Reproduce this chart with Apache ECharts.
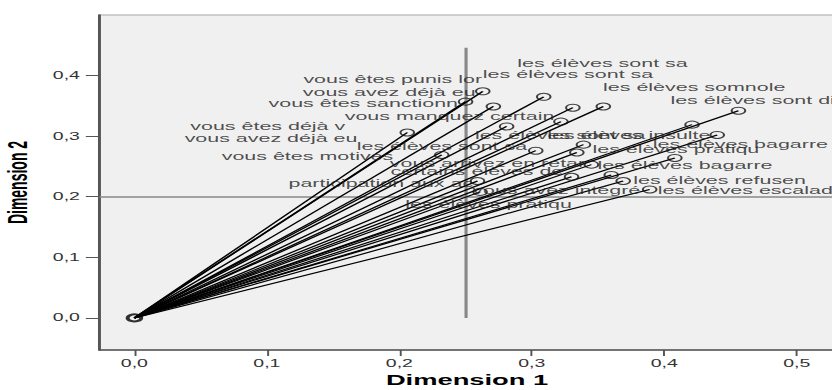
<!DOCTYPE html>
<html>
<head>
<meta charset="utf-8">
<script src="https://cdn.jsdelivr.net/npm/echarts@6/dist/echarts.min.js"></script>
<style>
	html, body { margin: 0; padding: 0; background: #fff; overflow: hidden; }
	/* the reference is stretched horizontally, so is this */
	#chart { width: 427px; height: 390px; transform: scaleX(1.95); transform-origin: 0 0; }
</style>
</head>
<body>
<div id="chart"></div>
<script>
	var stretch = 1.95;

	var names = [
		'vous avez déjà eu', 'vous manquez certain', 'vous êtes sanctionn', 'vous êtes punis lor',
		'les élèves sont sa', 'les élèves sont sa', 'les élèves sont di', 'les élèves sont sa',
		'vous avez déjà eu', 'vous êtes déjà v', 'les élèves somnole', 'les élèves insulte',
		'les élèves pratiqu', 'les élèves sont sa', 'vous arrivez en retar', 'vous êtes motivés',
		'les élèves bagarre', 'les élèves bagarre', 'vous avez intégré', 'certains élèves de',
		'les élèves refusen', 'participation aux ac', 'les élèves pratiqu', 'les élèves escalad'
	];
	var dim1 = [
		0.263, 0.309, 0.250, 0.271, 0.331, 0.354, 0.456, 0.322,
		0.281, 0.206, 0.421, 0.440, 0.339, 0.303, 0.334, 0.232,
		0.408, 0.345, 0.360, 0.330, 0.369, 0.259, 0.261, 0.389
	];
	var dim2 = [
		0.374, 0.365, 0.357, 0.349, 0.347, 0.349, 0.342, 0.324,
		0.316, 0.306, 0.319, 0.302, 0.286, 0.276, 0.273, 0.269,
		0.264, 0.253, 0.236, 0.233, 0.226, 0.226, 0.208, 0.212
	];
	// where each label sits relative to its point (picture pixels)
	var labelShift = [
		[-180, 1], [-199, 20], [-197, 2], [-190, -27], [-90, -33], [-86, -43], [-68, -10], [-86, 14],
		[-322, 12], [-217, -6], [-89, -37], [-170, 1], [9, 5], [-179, -4], [-187, 11], [-220, 2],
		[-22, -14], [6, 1], [-139, 16], [-181, -5], [10, -1], [-189, 2], [-75, 13], [8, 1]
	];
	var xTicks = [0, 0.1, 0.2, 0.3, 0.4, 0.5];
	var yTicks = [0, 0.1, 0.2, 0.3, 0.4];
	var refX = 0.25, refXTop = 0.446;
	var refY = 0.2;
	var xMin = -0.0264, xMax = 0.5286;
	var yMin = -0.053, yMax = 0.50;

	var fmt = function (v) { return v.toFixed(1).replace('.', ','); };

	var vectors = [];
	var points = [];
	names.forEach(function (n, i) {
		vectors.push({ coords: [[0, 0], [dim1[i], dim2[i]]] });
		points.push({
			name: n,
			value: [dim1[i], dim2[i]],
			label: { offset: [labelShift[i][0] / stretch, labelShift[i][1]] }
		});
	});

	var option = {
		animation: false,
		grid: {
			left: 51, top: 15, width: 377, height: 335,
			outerBoundsMode: 'none',
			containLabel: false,
			show: true,
			backgroundColor: '#f0f0f0',
			borderColor: '#a8a8a8',
			borderWidth: 1
		},
		xAxis: {
			type: 'value', min: xMin, max: xMax,
			name: 'Dimension 1', nameLocation: 'middle', nameGap: 21,
			nameTextStyle: { fontFamily: 'Liberation Sans', fontWeight: 'bold', fontSize: 14, color: '#000' },
			axisLine: { show: true, onZero: false, lineStyle: { color: '#555', width: 1.5 } },
			axisTick: { show: true, customValues: xTicks, length: 6, lineStyle: { color: '#555', width: 1 } },
			axisLabel: { customValues: xTicks, formatter: fmt, margin: 8, fontFamily: 'Liberation Sans', fontSize: 10, color: '#333' },
			splitLine: { show: false }
		},
		yAxis: {
			type: 'value', min: yMin, max: yMax,
			name: 'Dimension 2', nameLocation: 'middle', nameGap: 32,
			nameTextStyle: { fontFamily: 'Liberation Sans', fontWeight: 'bold', fontSize: 14, color: '#000' },
			axisLine: { show: true, onZero: false, lineStyle: { color: '#555', width: 1.5 } },
			axisTick: { show: true, customValues: yTicks, length: 7, lineStyle: { color: '#555', width: 1 } },
			axisLabel: { customValues: yTicks, formatter: fmt, margin: 10, fontFamily: 'Liberation Sans', fontSize: 10, color: '#333' },
			splitLine: { show: false }
		},
		series: [
			{
				type: 'lines',
				coordinateSystem: 'cartesian2d',
				silent: true,
				lineStyle: { color: '#888', width: 1.6, opacity: 1 },
				data: [
					{ coords: [[refX, 0], [refX, refXTop]] },
					{ coords: [[xMin, refY], [xMax, refY]] }
				],
				z: 1
			},
			{
				type: 'lines',
				coordinateSystem: 'cartesian2d',
				silent: true,
				lineStyle: { color: '#000', width: 1.1, opacity: 1 },
				data: vectors,
				z: 2
			},
			{
				type: 'scatter',
				symbol: 'circle',
				symbolSize: 7,
				itemStyle: { color: 'rgba(0,0,0,0)', borderColor: '#111', borderWidth: 1 },
				label: {
					show: true,
					position: 'inside',
					align: 'left',
					verticalAlign: 'middle',
					formatter: '{b}',
					fontFamily: 'Liberation Sans',
					fontSize: 11,
					color: '#222'
				},
				data: points,
				z: 3
			},
			{
				type: 'scatter',
				symbol: 'circle',
				symbolSize: 7,
				itemStyle: { color: 'rgba(0,0,0,0)', borderColor: '#000', borderWidth: 2 },
				data: [[0, 0]],
				z: 3
			}
		]
	};

	var myChart = echarts.init(document.getElementById('chart'), null, { renderer: 'svg' });
	myChart.setOption(option);
</script>
</body>
</html>
